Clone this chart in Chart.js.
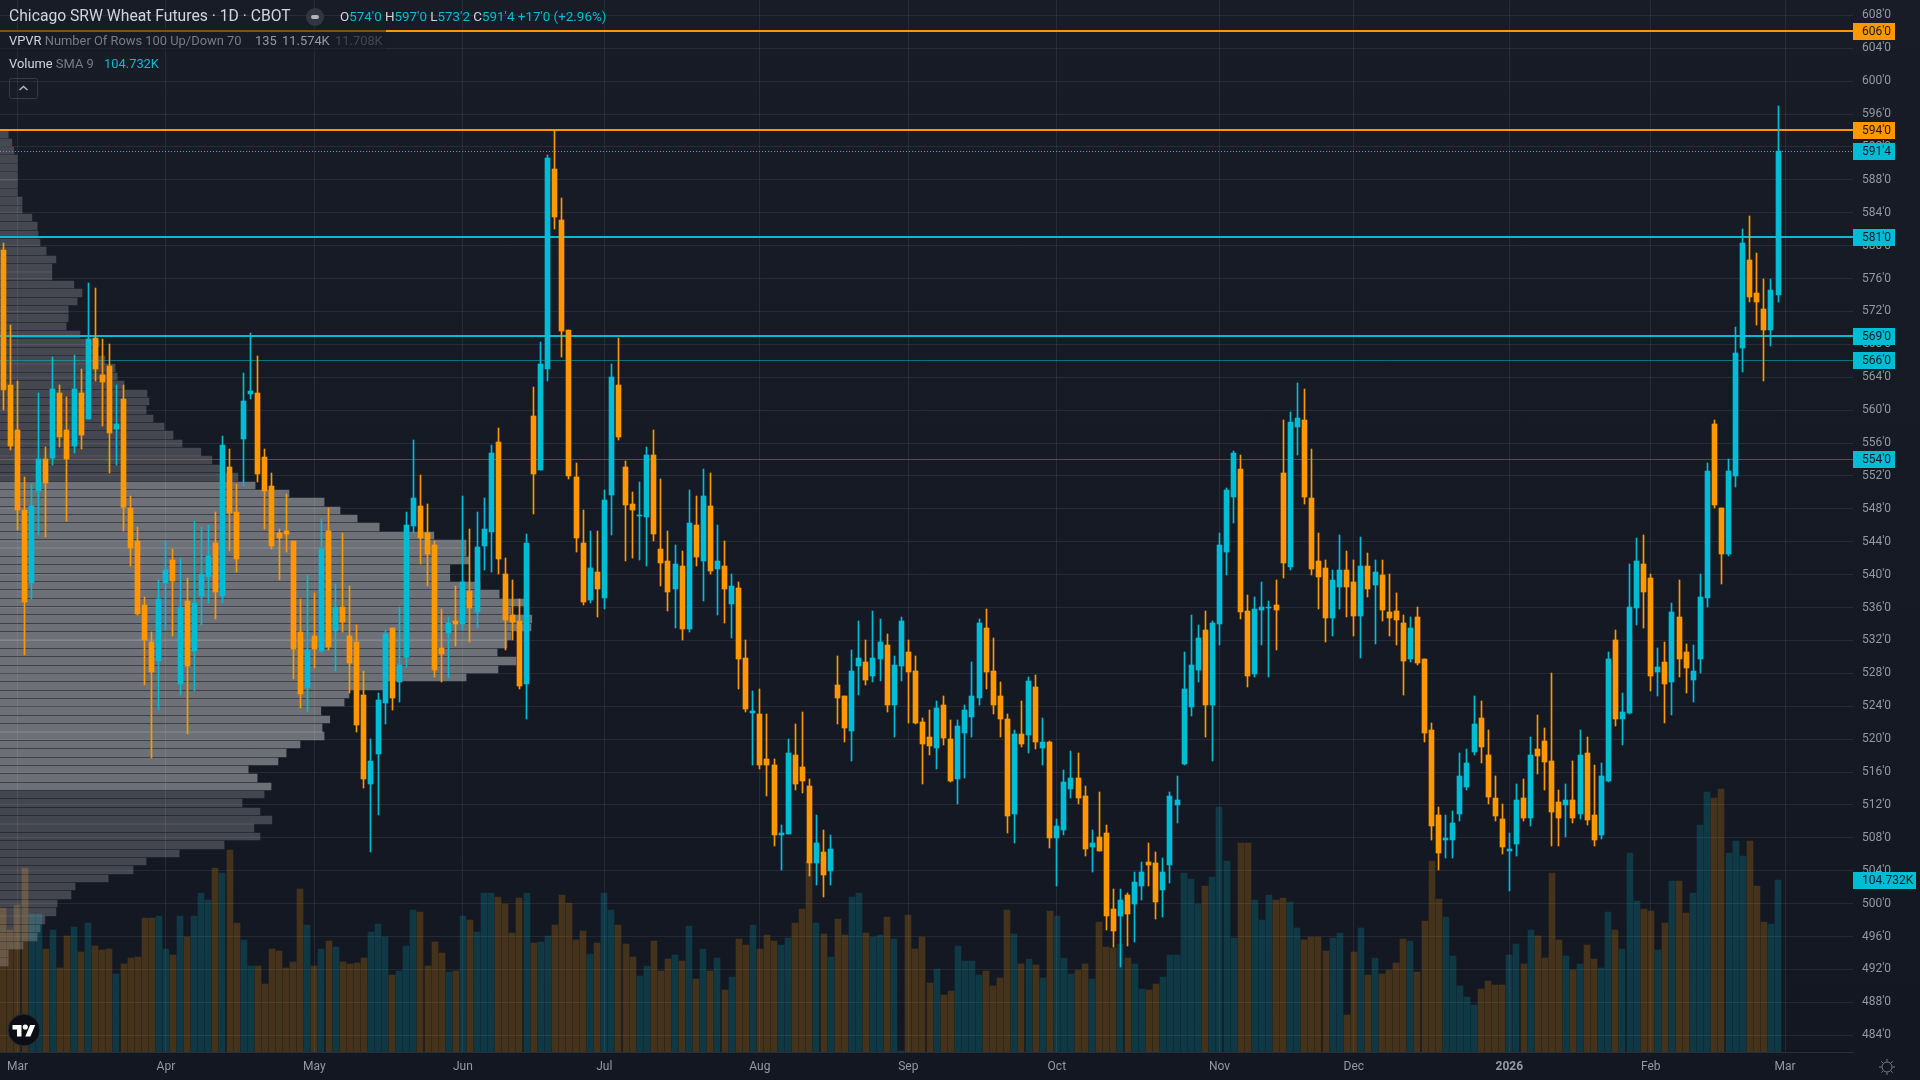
<!DOCTYPE html>
<html>
<head>
<meta charset="utf-8">
<title>Chicago SRW Wheat Futures</title>
<script src="https://cdn.jsdelivr.net/npm/chart.js@4/dist/chart.umd.min.js"></script>
<style>
  html, body { margin: 0; padding: 0; width: 1920px; height: 1080px; overflow: hidden; }
  body { background: linear-gradient(#181c27, #131722); font-family: Roboto, sans-serif; position: relative; }
  canvas { position: absolute; left: 0; top: 0; }
  .lbl { position: absolute; white-space: pre; line-height: 16px; }
</style>
</head>
<body>
<canvas id="chart" width="1920" height="1080"></canvas>

<div style="position:absolute;left:0;top:29px;width:386px;height:23px;background:rgba(24,28,39,.55)"></div>
<div class="lbl" style="left:9px;top:8px;font-size:15.7px;color:#d1d4dc">Chicago SRW Wheat Futures · 1D · CBOT</div>
<div style="position:absolute;left:306px;top:8px;width:18px;height:18px;border-radius:9px;background:#323642"></div>
<div style="position:absolute;left:311px;top:15px;width:8px;height:4px;border-radius:2px;background:#b2b5be"></div>
<div class="lbl" style="left:340px;top:9px;font-size:13.4px;color:#00bcd4"><span style="color:#d1d4dc">O</span>574'0 <span style="color:#d1d4dc">H</span>597'0 <span style="color:#d1d4dc">L</span>573'2 <span style="color:#d1d4dc">C</span>591'4 +17'0 (+2.96%)</div>
<div class="lbl" style="left:9px;top:33px;font-size:12.9px;color:#787b86"><span style="color:#d1d4dc">VPVR</span> Number Of Rows 100 Up/Down 70</div>
<div class="lbl" style="left:255px;top:33px;font-size:12.9px;color:#9598a1">135</div>
<div class="lbl" style="left:282px;top:33px;font-size:12.9px;color:#9598a1">11.574K</div>
<div class="lbl" style="left:335px;top:33px;font-size:12.9px;color:#434651">11.708K</div>
<div class="lbl" style="left:9px;top:56px;font-size:12.9px;color:#787b86"><span style="color:#d1d4dc">Volume</span> SMA 9</div>
<div class="lbl" style="left:104px;top:56px;font-size:12.9px;color:#00bcd4">104.732K</div>
<svg style="position:absolute;left:9px;top:78px" width="29" height="21">
  <rect x="0.5" y="0.5" width="28" height="20" rx="2" fill="none" stroke="#363a45"/>
  <path d="M10.5 12 L14.5 8.5 L18.5 12" fill="none" stroke="#b2b5be" stroke-width="1.5"/>
</svg>
<svg style="position:absolute;left:7px;top:1013px" width="34" height="34">
  <circle cx="17" cy="17" r="16" fill="#0c0e15" stroke="#2a2e39"/>
  <g transform="translate(5.5,9.5) scale(.64)" fill="#fff">
    <path d="M14 22H7V11H0V4h14v18zM28 22h-8l7.5-18h8L28 22z"/>
    <circle cx="20" cy="7" r="4"/>
  </g>
</svg>
<svg style="position:absolute;left:1878px;top:1058px" width="18" height="18" fill="none" stroke="#787b86" stroke-width="1">
  <circle cx="9" cy="9" r="5"/>
  <path d="M9 1v2.5M9 14.5V17M1 9h2.5M14.5 9H17M3.3 3.3l1.8 1.8M12.9 12.9l1.8 1.8M3.3 14.7l1.8-1.8M12.9 5.1l1.8-1.8"/>
</svg>

<script>
// Daily candles, left to right, prices in cents per bushel
const opens = [
  579.5,563.1,557.6,547.9,539,550.2,554,554.2,562.1,557.6,555.6,562.1,558.9,568.8,564.3,565.4,557.7,561.4,548.1,544.1,
  536.3,531.8,529.5,539,541.8,526.7,536.8,530.7,537.4,539.7,543.9,537.4,553.1,547.6,556.5,562,562.1,554.3,550.8,545.1,
  545.3,544.1,533,526.2,532.6,530.7,545.3,533.2,536.1,532.6,531.8,525.4,514.5,518.2,524.4,533.5,527,530,545.9,548.4,
  545.1,543.6,531.1,532.9,534.4,534,538,535.5,543.5,545.2,556.1,540.1,535.1,534.4,526.7,559.3,552.7,565,589.3,583.1,
  569.7,551.9,543.9,536.9,540.3,537.2,549.7,563.1,553.1,548.6,547.1,547,554.6,543.1,541.6,538.3,541.1,533.4,546,541.7,
  548.4,540.7,541.1,536.4,538.4,529.9,523.2,523.1,517.6,516.9,508.3,508.5,518.1,516.6,514.3,505,506.3,504,526.6,525.2,
  521,528.9,529.4,527.7,529.8,531.4,524.2,528.9,530.6,528.3,522.1,520.3,518.9,524.1,520,515.2,520.8,522.7,525,533.5,
  528.3,525.2,522.4,510.9,520.6,520.5,526.4,518.9,519.6,508,509,514,515.3,513.1,506.9,508.1,508.6,499.4,498.5,501.1,
  500,502.2,505.1,504.9,501.7,504.7,512,517,523.9,528.4,533.3,524.2,534,542.8,549.5,552.9,535.6,527.9,535.7,536,
  536.3,552.4,540.9,558,558.8,549.3,541.6,540.8,534.7,538.5,540.6,539.1,535,541.1,538.8,539.9,535.4,535.6,534.1,529.8,
  534.9,529.7,521.1,510.8,507.8,507.8,510.9,514.2,518.5,522.6,518.1,512.9,510.3,506.4,507.3,512.9,510.4,518.8,519.8,517.4,
  512.4,512,512.6,510.9,518.3,510.8,508.3,514.9,532.1,522.5,523.2,536,541.3,539.6,528.2,529.4,527,534.9,530.6,527.2,
  529.8,537.2,558.3,548.1,542.5,552,567.5,578.2,574.2,572.3,569.8,574
];
const highs = [
  580.3,570.4,563.5,551.9,551,562.1,555.5,566.5,563,561.6,566.7,565,575.4,574.9,568.6,568.1,563,563,549.6,545.8,
  537.3,533,539.4,544.1,543.1,542,539.6,546.5,545.8,546,547.6,556.9,555.3,551,564.5,569.4,566.6,555.3,552.4,545.6,
  549.8,544.1,537,539.9,537.8,546.8,548.1,538.9,545.1,538.6,533.9,528.3,520,525.6,533.3,533.5,536.1,547.6,556.4,552.1,
  548.6,544.1,535.8,534.9,538.6,549.6,545.6,547.6,549.3,555.8,557.8,542,539.4,537,545,562.8,568.3,591,594.1,585.8,
  569.7,553.6,547.9,545.3,545.3,550.3,565.6,568.8,553.8,550.1,551.3,555.5,557.6,551.6,545.3,543.6,542.9,550.3,549.6,552.9,
  552.4,546,544.1,540.1,539.1,532.1,525.9,526.1,523.1,517.6,509.6,520,521.9,523.3,515.1,510.8,508.9,508.4,530.1,525.2,
  530.9,534.4,532.1,535.6,534.6,532.8,530.1,534.9,532.1,530.1,522.6,523.6,524.6,525.2,522.3,522.3,524.1,529.4,534.6,535.8,
  532.3,526.9,523.1,521.1,524.6,527.6,527.8,522.6,519.8,510.3,516.2,518.6,518.3,514.3,508.9,513.6,509.6,501.8,501.8,501.3,
  503.9,505.1,507.4,506.3,505.6,513.6,515.5,530.6,535.1,533.9,535.6,534.4,545.1,550.5,555,554.6,537.5,537.3,539.1,536.8,
  539.4,558.8,559.8,563.3,562.6,555.3,545.1,541.8,540.6,544.8,542.9,541.8,544.6,542.6,541.8,541.8,540.1,537.8,535.1,534.9,
  536.1,529.7,522,511.7,510.8,511.3,518.3,518.8,525.2,524.6,521.1,515.5,512.1,508.6,514.6,515.1,520.3,522.9,521.4,528,
  513.8,514.6,517.4,521.1,520.3,516.9,517.1,530.6,533.3,525.6,541.3,544.4,544.8,540.1,531.1,531.8,536.6,539.4,531.6,531.4,
  540.1,553.6,558.8,548.1,554.1,570.1,582,583.6,579.1,575.9,575.9,597
];
const lows = [
  560,555.1,545.4,530.2,537,544.8,544.6,553.3,555.5,546.5,554.8,555.3,558.9,563.5,558.1,552.4,553.3,545.3,541.1,535.1,
  526.6,517.7,523.6,533.3,532.6,525.4,520.6,525.9,533.9,536.6,534.6,536.6,542.9,540.3,550.8,561.4,551.3,545.6,543.1,539.4,
  542.7,527.3,523.8,523.3,528.6,530.6,530.9,528.3,533,525.6,520.9,514.1,506.3,510.8,521.9,523.6,524.5,528.8,545.1,541.3,
  538.6,527.6,526.9,527.4,531.3,533.3,531.8,533.5,540.6,540.3,540.1,530.9,532.1,526.1,522.4,547.4,552.7,563.5,582,566.4,
  551.6,542.7,536.3,536.6,534.9,535.8,544.8,556.4,541.6,542,541.8,541.1,544.1,538.6,535.6,533.5,532.1,533,541.1,536.8,
  540.1,535.1,534.1,532.3,526.1,523.3,516.9,516.4,513.1,507,504.1,508.5,513.8,513.4,503.4,502.3,500.8,502.3,521.9,519.6,
  517.4,525.4,526.6,526.9,527.1,523.3,520.3,527.1,522,521.9,514.6,518.1,516.4,519.3,514.8,512.1,515.3,520.3,524.1,526.1,
  523.1,520.3,508.6,507.4,519.1,518.3,518.8,516.9,506.8,502.1,508.4,512.9,512.1,505.8,503.9,506.4,496.8,494.7,492.3,494.9,
  495.4,500.4,502.1,498.1,498.4,502.5,509.8,516.9,522.8,526.9,520.3,517.4,531.4,539.9,546.3,534.6,526.4,527.6,531.4,527.6,
  530.9,539.6,540.6,554.6,548.6,539.9,535.8,531.8,532.6,535.8,534.9,532.6,529.9,537.3,531.6,534.4,532.6,531.4,525.4,529.4,
  529,519.6,507.7,504.1,505.6,505.6,510.1,513.8,518.1,517.1,512.1,510.1,506.1,501.6,505.8,510.1,509.4,515.8,513.8,507,
  507,508.1,509.8,510.3,509.6,507,507.9,514.8,521.6,519.3,523.1,533.9,533.5,525.9,525.2,522,522.9,527.6,525.6,524.5,
  528.1,536.1,548.1,538.9,542.3,550.6,564.6,573.1,570.4,563.6,567.8,573.2
];
const closes = [
  562.5,555.6,547.8,536.7,548.4,554,551.2,562.6,556.7,554,562.6,557,568.6,565,563.4,557.2,558.3,548.2,543.3,535.2,
  532,528.2,537,540.6,539.2,536.1,528.9,536.6,540.1,542.3,537.9,555.8,547.5,541.9,561.1,562.3,552.2,550.2,543.5,544.5,
  545,531,525.5,530.9,531,543.1,531.2,536.1,534.3,529.3,521.7,515.2,517.4,524.8,532.8,525,529,546,549.3,544.5,
  542.5,528.4,530.3,534.1,534,539.1,536,543.4,545.6,554.8,541.9,534.5,534.3,526.5,543.9,552.2,565.6,590.6,583.5,569.6,
  552,544.5,536.7,540.8,538.3,549.1,564,556.7,548.5,547.8,547.3,554.6,545,541.4,537.9,541.3,533.4,546.3,542.2,549.6,
  540.5,541.6,538.3,538.6,529.8,523.7,523.4,516.8,516.8,508.3,508.6,518.3,514.5,514.9,505,507.4,503.5,506.6,525,521.3,
  528.3,529.9,527.2,529.9,531.8,524.2,529,534.4,528.2,522,519.4,519.2,523.8,520.2,514.9,521.6,523.6,525.2,534.1,528.2,
  524.2,522.5,510.7,520.6,519.4,527.1,519.7,519.6,508,509.4,514.8,515.3,512.8,506.7,507.4,506.4,498.5,496.7,500.4,498.8,
  502.6,503.9,504.7,500.2,503.9,513.1,512.6,526.1,529,532.3,524.2,534.1,543.6,550.3,554.8,535.5,527.7,535.8,536.1,536.1,
  535.7,541.4,558.6,559.1,549.5,540.7,539.7,534.7,539.4,540.6,538.5,535,541.1,538.3,540.3,535.7,534.7,534.5,529.5,533.5,
  529.3,520.8,509.5,506.2,508,509.8,515.5,517.1,521.9,519,513,510.7,506.9,506.6,512.6,510.4,518.1,518,517.2,511.2,
  510.4,512.6,510.4,518.1,510.2,507.8,515.5,529.7,522.5,523.3,536.1,541.6,537.9,527.7,528.8,526.7,535.4,529.8,528.7,528.3,
  537.3,552.6,548.5,542.5,552.6,566.9,580.3,573.8,573.2,569.8,574.6,591.5
];
// Volume per day, thousands of contracts
const volumes = [
  87.5,74.4,89.5,112,84.1,84.1,62.8,74.4,51.3,70.7,76.2,61,78.6,64.6,62.2,62.8,47.6,53.7,57.3,57.9,
  81.6,81.6,82.9,62.8,59.2,82.9,70.1,82.9,96.8,92.6,112,109,123,78.6,68.3,52.5,52.5,41.5,62.8,61.6,
  51.3,54.9,99.3,77.4,52.5,62.8,67.7,64,54.9,53.7,54.3,57.3,73.1,78,70.1,47,49.4,64.6,86.5,85.3,
  52.5,67.1,60.4,48.8,49.4,82.9,80.4,73.1,96.8,96.8,94.4,90.2,72.5,93.8,96.8,66.5,67.1,70.7,77.4,95.6,
  90.8,68.3,73.7,59.8,66.5,96.8,86.5,77.4,65.8,57.9,46.4,52.5,67.7,49.4,56.7,59.2,55.5,76.8,44.6,62.8,
  49.4,57.3,37.9,45.8,68.9,65.2,77.4,62.8,71.3,67.7,65.2,69.5,78.6,87.1,116.3,78.6,71.9,57.9,81,71.3,
  94.4,96.8,72.5,70.1,71.3,82.3,68.9,0.8,83.5,62.8,70.1,42.1,50.7,34.8,37.3,64.6,55.5,55.5,47,49.4,
  40.3,45.2,86.5,71.9,53.7,56.7,53.1,45.2,85.9,82.9,57.3,47.6,50,53.7,44.6,79.2,64,63.4,65.8,57.3,
  53.7,38.5,37.9,41.5,45.8,59.2,59.2,109,105.4,90.2,101.1,106.6,149.1,116.3,69.5,127.2,127.2,92.6,80.4,95.6,
  92.6,93.8,91.4,75.6,68.3,70.1,70.1,61.6,69.5,72.5,22.7,61,75.6,47,57.3,47.6,50,54.3,68.9,67.7,
  48.8,79.8,116.3,93.2,82.3,58.6,40.3,33.6,28.8,38.5,43.4,40.9,40.9,59.2,65.8,53.7,74.4,70.7,57.3,109,
  68.3,58.6,50,53.7,65.2,56.7,51.3,85.3,74.4,62.8,121.2,92,87.1,85.9,62.2,78.6,104.1,104.1,84.7,96.8,
  138.2,158.2,154.6,160.1,121.2,128.4,119.3,128.4,101.1,79.2,78,104.7
];
// Volume profile, relative volume per row, top row first
const vpvrRows = [
  20,29,34,42,42,42,42,42,54,54,78,91,93,98,113,137,127,127,181,201,189,167,167,162,196,243,240,257,
  282,287,304,360,365,358,375,402,424,446,492,519,540,583,625,708,794,833,875,929,1063,1142,1142,1150,1102,1102,1176,1223,1284,1252,1303,1301,1252,1242,1218,1264,1220,1142,940,855,843,786,808,
  789,794,735,701,681,608,630,664,647,593,637,666,622,637,549,439,358,326,265,184,174,140,137,110,98,91,56,20,20
];
const valueAreaFirst = 42;
const valueAreaLast = 78;

const monthTicks = [2, 23, 44, 65, 85, 107, 128, 149, 172, 191, 213, 233, 252];
const monthLabels = ['Mar', 'Apr', 'May', 'Jun', 'Jul', 'Aug', 'Sep', 'Oct', 'Nov', 'Dec', '2026', 'Feb', 'Mar'];
const priceTicks = [608, 604, 600, 596, 592, 588, 584, 580, 576, 572, 568, 564, 560, 556, 552, 548, 544, 540, 536, 532, 528, 524, 520, 516, 512, 508, 504, 500, 496, 492, 488, 484];

// Horizontal levels and their tags on the price axis
const levelPrices = [606, 594, 591.5, 581, 569, 566, 554];
const levelLabels = ["606'0", "594'0", "591'4", "581'0", "569'0", "566'0", "554'0"];
const levelColors = ['#ff9800', '#ff9800', '#00bcd4', '#00bcd4', '#00bcd4', 'rgba(0,188,212,.55)', 'rgba(0,188,212,.5)'];
const levelTagColors = ['#ff9800', '#ff9800', '#00bcd4', '#00bcd4', '#00bcd4', '#00bcd4', '#00bcd4'];
const levelWidths = [2, 2, 1, 2, 2, 1, 1];

const ORANGE = '#ff9800';
const TEAL = '#00bcd4';
const GRID = 'rgba(255,255,255,.075)';
const FONT = 'Roboto, sans-serif';

const candleColors = closes.map((c, i) => (c >= opens[i] ? TEAL : ORANGE));
const volumeColors = closes.map((c, i) => (c >= opens[i] ? 'rgba(0,188,212,.2)' : 'rgba(255,152,0,.21)'));
const vpvrColors = vpvrRows.map((v, i) => (i >= valueAreaFirst && i <= valueAreaLast ? 'rgba(255,255,255,.38)' : 'rgba(255,255,255,.2)'));

const xMin = -0.467;
const xMax = 261.6;

const levelDatasets = levelPrices.map((p, i) => ({
    type: 'line',
    label: 'Level',
    data: [{ x: xMin, y: p }, { x: xMax, y: p }],
    borderColor: levelColors[i],
    borderWidth: levelWidths[i],
    borderDash: p === 591.5 ? [1, 2] : [],
    pointRadius: 0,
    order: 3
}));

// Snap marks to whole pixels after the scales placed them, otherwise they blur
const snapPlugin = {
    id: 'snap',
    afterDatasetsUpdate(chart) {
        chart.data.datasets.forEach((ds, d) => {
            const els = chart.getDatasetMeta(d).data;
            els.forEach(el => {
                if (ds.label === 'Level') {
                    el.y = ds.borderWidth === 2 ? Math.floor(el.y) : Math.floor(el.y) + 0.5;
                } else if (ds.label === 'VPVR') {
                    const top = Math.round(el.y - 3.7);
                    const bottom = Math.round(el.y + 3.7);
                    el.y = (top + bottom) / 2;
                    el.height = bottom - top;
                } else if (ds.label === 'Volume') {
                    el.x = Math.round(el.x);
                    el.y = Math.round(el.y);
                } else {
                    el.x = Math.floor(el.x) + 0.5;
                    el.y = Math.round(el.y);
                    el.base = Math.round(el.base);
                    if (el.y === el.base) el.base = el.y + 1;
                }
            });
        });
    }
};

// Tags on the price axis, painted after the tick labels
const tagsPlugin = {
    id: 'tags',
    afterDraw(chart) {
        const c = chart.ctx;
        const y = chart.scales.y;
        c.save();
        c.textBaseline = 'middle';
        c.font = '12px ' + FONT;
        levelPrices.forEach((p, i) => {
            const py = Math.floor(y.getPixelForValue(p));
            c.fillStyle = levelTagColors[i];
            c.fillRect(chart.chartArea.right, py - 8, 42, 17);
            c.fillStyle = '#131722';
            c.fillText(levelLabels[i], 1862, py + 1);
        });
        const last = volumes[volumes.length - 1];
        const vy = Math.round(chart.scales.yVol.getPixelForValue(last));
        c.fillStyle = TEAL;
        c.fillRect(chart.chartArea.right, vy - 8, 63, 17);
        c.fillStyle = '#131722';
        c.fillText('104.732K', 1862, vy + 1);
        c.restore();
    }
};

const ctx = document.getElementById('chart').getContext('2d');
new Chart(ctx, {
    data: {
        datasets: [
            {
                type: 'bar',
                label: 'Volume',
                yAxisID: 'yVol',
                data: volumes.map((v, i) => ({ x: i, y: v })),
                backgroundColor: volumeColors,
                barThickness: 6,
                grouped: false,
                order: 5
            },
            {
                type: 'bar',
                label: 'VPVR',
                indexAxis: 'y',
                xAxisID: 'xVp',
                yAxisID: 'yRow',
                data: vpvrRows.map((v, i) => ({ x: v, y: i })),
                backgroundColor: vpvrColors,
                barThickness: 7.4,
                grouped: false,
                order: 4
            },
            ...levelDatasets,
            {
                type: 'bar',
                label: 'Wicks',
                data: highs.map((h, i) => ({ x: i, y: [lows[i], h] })),
                backgroundColor: candleColors,
                barThickness: 1,
                grouped: false,
                order: 2
            },
            {
                type: 'bar',
                label: 'Bodies',
                data: opens.map((o, i) => ({ x: i, y: [o, closes[i]] })),
                backgroundColor: candleColors,
                barThickness: 5,
                minBarLength: 1,
                grouped: false,
                order: 1
            }
        ]
    },
    options: {
        responsive: false,
        animation: false,
        layout: { padding: 0 },
        plugins: { legend: { display: false }, tooltip: { enabled: false } },
        scales: {
            x: {
                type: 'linear',
                position: 'bottom',
                offset: false,
                min: xMin,
                max: xMax,
                afterBuildTicks: scale => { scale.ticks = monthTicks.map(v => ({ value: v })); },
                afterFit: scale => { scale.height = 28; scale.paddingLeft = 0; scale.paddingRight = 0; },
                grid: { color: GRID, drawTicks: false, offset: false },
                border: { color: '#2a2e39', width: 1 },
                ticks: {
                    autoSkip: false,
                    maxRotation: 0,
                    padding: 8,
                    color: '#9598a1',
                    font: c => ({ family: FONT, size: 12, weight: monthLabels[c.index] === '2026' ? 'bold' : 'normal' }),
                    callback: (v, i) => monthLabels[i]
                }
            },
            y: {
                type: 'linear',
                position: 'right',
                offset: false,
                min: 481.97,
                max: 609.86,
                afterBuildTicks: scale => { scale.ticks = priceTicks.map(v => ({ value: v })); },
                afterFit: scale => { scale.width = 67; scale.paddingTop = 0; scale.paddingBottom = 0; },
                grid: { color: GRID, drawTicks: false, offset: false },
                border: { display: false },
                ticks: {
                    autoSkip: false,
                    padding: 9,
                    color: '#9598a1',
                    font: { family: FONT, size: 12 },
                    callback: v => v + "'0"
                }
            },
            yVol: { type: 'linear', display: false, offset: false, min: 0, max: 640.7 },
            xVp: { type: 'linear', display: false, offset: false, min: 0, max: 4540 },
            yRow: { type: 'linear', display: false, offset: false, reverse: true, min: -16.02, max: 109.76 }
        }
    },
    plugins: [snapPlugin, tagsPlugin]
});
</script>
</body>
</html>
